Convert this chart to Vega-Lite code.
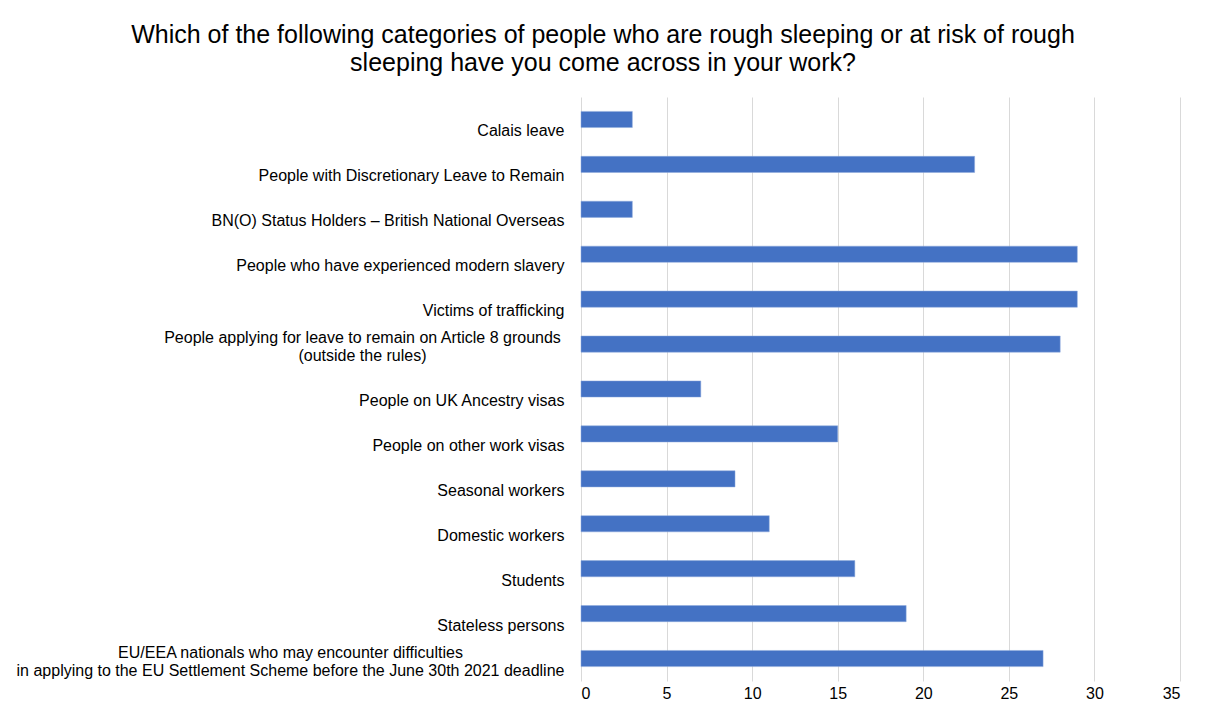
{
  "$schema": "https://vega.github.io/schema/vega-lite/v6.json",
  "autosize": {"type": "none"},
  "width": 599,
  "height": 584,
  "padding": {"left": 581, "top": 97, "right": 25, "bottom": 37},
  "background": "white",
  "title": {
    "text": ["Which of the following categories of people who are rough sleeping or at risk of rough", "sleeping have you come across in your work?"],
    "font": "Liberation Sans",
    "fontSize": 25,
    "fontWeight": "normal",
    "lineHeight": 28,
    "color": "#000000",
    "anchor": "middle",
    "frame": "bounds",
    "offset": 21,
    "dx": 5
  },
  "data": {
    "values": [
      {"category": "Calais leave", "count": 3},
      {"category": "People with Discretionary Leave to Remain", "count": 23},
      {"category": "BN(O) Status Holders – British National Overseas", "count": 3},
      {"category": "People who have experienced modern slavery ", "count": 29},
      {"category": "Victims of trafficking", "count": 29},
      {"category": "People applying for leave to remain on Article 8 grounds\n(outside the rules)", "count": 28},
      {"category": "People on UK Ancestry visas", "count": 7},
      {"category": "People on other work visas", "count": 15},
      {"category": "Seasonal workers", "count": 9},
      {"category": "Domestic workers", "count": 11},
      {"category": "Students", "count": 16},
      {"category": "Stateless persons", "count": 19},
      {"category": "EU/EEA nationals who may encounter difficulties\nin applying to the EU Settlement Scheme before the June 30th 2021 deadline", "count": 27}
    ]
  },
  "mark": {"type": "bar", "color": "#4472C4", "stroke": "#8FAADC", "strokeWidth": 0.5},
  "encoding": {
    "y": {
      "field": "category",
      "type": "nominal",
      "sort": null,
      "scale": {"paddingInner": 0.64, "paddingOuter": 0.32},
      "axis": {
        "title": null,
        "domain": false,
        "ticks": false,
        "labelFont": "Liberation Sans",
        "labelFontSize": 16,
        "labelColor": "#000000",
        "labelLimit": 1000,
        "labelLineHeight": 18,
        "labelExpr": "split(datum.label, '\\n')",
        "labelAlign": {"condition": {"test": "indexof(datum.value, '\\n') >= 0", "value": "center"}, "value": "right"},
        "labelOffset": {"condition": {"test": "indexof(datum.value, '\\n') >= 0", "value": -6}, "value": 12},
        "labelPadding": {"condition": [{"test": "indexof(datum.value, 'EU/EEA') === 0", "value": 291}, {"test": "indexof(datum.value, 'People applying') === 0", "value": 219}], "value": 17}
      }
    },
    "x": {
      "field": "count",
      "type": "quantitative",
      "scale": {"domain": [0, 35]},
      "axis": {
        "title": null,
        "values": [0, 5, 10, 15, 20, 25, 30, 35],
        "domain": false,
        "ticks": false,
        "grid": true,
        "gridColor": "#D9D9D9",
        "gridWidth": 1,
        "labelFont": "Liberation Sans",
        "labelFontSize": 16,
        "labelColor": "#000000",
        "labelPadding": 4
      }
    }
  },
  "config": {"view": {"stroke": null}}
}
